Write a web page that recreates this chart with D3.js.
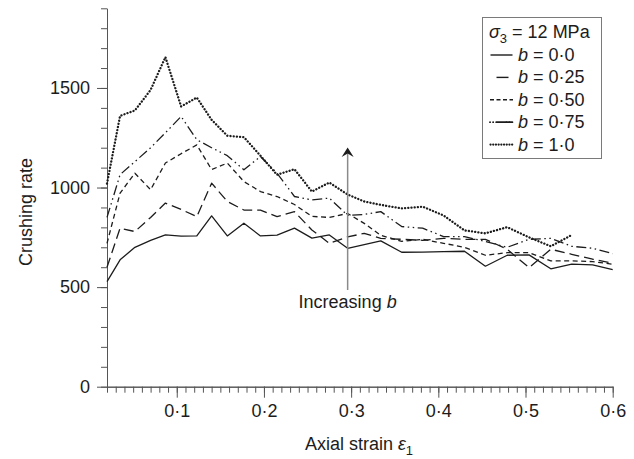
<!DOCTYPE html>
<html>
<head>
<meta charset="utf-8">
<script src="https://cdn.jsdelivr.net/npm/d3@7"></script>
<style>
  html, body { margin: 0; padding: 0; background: #fff; }
  svg { display: block; font-family: "Liberation Sans", Arial, Helvetica, sans-serif; }
</style>
</head>
<body>
<svg id="chart" width="634" height="459"></svg>
<script>
// Axial strain at which crushing rate was sampled
const strain = [0.020, 0.035, 0.052, 0.070, 0.087, 0.105, 0.123, 0.140, 0.158, 0.177,
                0.196, 0.215, 0.235, 0.255, 0.275, 0.296, 0.315, 0.334, 0.358, 0.382,
                0.406, 0.430, 0.454, 0.479, 0.504, 0.529, 0.553, 0.577, 0.600];

// Crushing rate for each intermediate principal stress ratio b (sigma3 = 12 MPa)
const rateB000 = [528, 637, 700, 735, 762, 756, 757, 858, 757, 821,
                  757, 761, 796, 746, 762, 695, 713, 732, 675, 676,
                  678, 680, 605, 660, 662, 592, 615, 612, 588];
const rateB025 = [600, 796, 779, 850, 922, 890, 854, 1022, 930, 887,
                  887, 854, 879, 787, 720, 752, 770, 745, 740, 735,
                  745, 740, 740, 690, 598, 690, 665, 640, 620];
const rateB050 = [720, 972, 1072, 989, 1123, 1170, 1214, 1090, 1123, 1030,
                  980, 955, 915, 855, 850, 870, 820, 760, 730, 740,
                  720, 700, 660, 673, 673, 632, 632, 628, 615];
const rateB075 = [850, 1065, 1130, 1200, 1275, 1357, 1240, 1200, 1160, 1089,
                  1156, 1072, 955, 938, 947, 860, 865, 879, 804, 796,
                  754, 754, 729, 700, 740, 745, 705, 695, 668];
const rateB100 = [1020, 1360, 1387, 1490, 1655, 1407, 1452, 1340, 1260, 1253,
                  1160, 1064, 1092, 980, 1025, 965, 930, 913, 895, 904,
                  860, 785, 770, 801, 750, 705, 762];

const bLabels = ["0·0", "0·25", "0·50", "0·75", "1·0"];
const yTicks = [0, 500, 1000, 1500];
const xTicks = [0.1, 0.2, 0.3, 0.4, 0.5, 0.6];
const xTickLabels = ["0·1", "0·2", "0·3", "0·4", "0·5", "0·6"];

const series = [rateB000, rateB025, rateB050, rateB075, rateB100];
const styles = [
  { dash: null, width: 1.3, cap: "butt" },
  { dash: "10,5", width: 1.3, cap: "butt" },
  { dash: "5,3.5", width: 1.3, cap: "butt" },
  { dash: "10,3.5,1.5,3.5,1.5,3.5", width: 1.3, cap: "butt" },
  { dash: "0.1,3.1", width: 2.3, cap: "round" }
];

const ink = "#1c1c1c";
const axisInk = "#555";
const svg = d3.select("#chart");

const x = d3.scaleLinear().domain([0.02, 0.6]).range([107, 612.7]);
const y = d3.scaleLinear().domain([0, 1900]).range([386.7, 8.3]);

// --- y axis: minor ticks every 100, major ticks with labels
const yAxisG = svg.append("g").attr("transform", `translate(${x(0.02)},0)`);
yAxisG.call(d3.axisLeft(y).tickValues(d3.range(0, 1901, 100)).tickSize(6)
  .tickSizeOuter(0).tickFormat(""));
yAxisG.append("g").call(d3.axisLeft(y).tickValues(yTicks).tickSize(10)
  .tickSizeOuter(0).tickFormat(d3.format("d")).tickPadding(7));
yAxisG.selectAll("path.domain").attr("stroke", axisInk);
yAxisG.selectAll(".tick line").attr("stroke", axisInk);
yAxisG.selectAll(".tick text").attr("font-size", 18).attr("fill", ink)
  .attr("font-family", "Liberation Sans, Arial, sans-serif");

// --- x axis: minor ticks every 0.01, major ticks with labels
const xAxisG = svg.append("g").attr("transform", `translate(0,${y(0)})`);
xAxisG.call(d3.axisBottom(x).tickValues(d3.range(2, 61).map(i => i / 100)).tickSize(6)
  .tickSizeOuter(0).tickFormat(""));
xAxisG.append("g").call(d3.axisBottom(x).tickValues(xTicks).tickSize(11)
  .tickSizeOuter(0).tickFormat((d, i) => xTickLabels[i]).tickPadding(7));
xAxisG.selectAll("path.domain").attr("stroke", axisInk);
xAxisG.selectAll(".tick line").attr("stroke", axisInk);
xAxisG.selectAll(".tick text").attr("font-size", 18).attr("fill", ink)
  .attr("font-family", "Liberation Sans, Arial, sans-serif");

// --- curves
const line = d3.line().x((d, i) => x(strain[i])).y(d => y(d));
series.forEach((vals, k) => {
  svg.append("path")
    .datum(vals)
    .attr("d", line)
    .attr("fill", "none")
    .attr("stroke", ink)
    .attr("stroke-width", styles[k].width)
    .attr("stroke-linecap", styles[k].cap)
    .attr("stroke-linejoin", "round")
    .attr("stroke-dasharray", styles[k].dash);
});

// --- "Increasing b" arrow
const arrowX = x(0.296);
svg.append("line")
  .attr("x1", arrowX).attr("x2", arrowX)
  .attr("y1", 290).attr("y2", 152)
  .attr("stroke", "#8a8a8a").attr("stroke-width", 1.5);
svg.append("path")
  .attr("d", `M${arrowX},147.5 L${arrowX + 6},157 L${arrowX},153.5 L${arrowX - 6},157 Z`)
  .attr("fill", ink);
const inc = svg.append("text")
  .attr("x", arrowX).attr("y", 307.5)
  .attr("text-anchor", "middle")
  .attr("font-size", 18).attr("fill", ink);
inc.append("tspan").text("Increasing ");
inc.append("tspan").attr("font-style", "italic").text("b");

// --- axis titles
const xt = svg.append("text")
  .attr("x", 359).attr("y", 450)
  .attr("text-anchor", "middle")
  .attr("font-size", 18).attr("fill", ink);
xt.append("tspan").text("Axial strain ");
xt.append("tspan").attr("font-style", "italic").text("ε");
xt.append("tspan").attr("font-size", 13).attr("dy", 5).text("1");

svg.append("text")
  .attr("transform", "translate(31.5,212) rotate(-90)")
  .attr("text-anchor", "middle")
  .attr("font-size", 18).attr("fill", ink)
  .text("Crushing rate");

// --- legend
const lg = svg.append("g");
lg.append("rect")
  .attr("x", 482.5).attr("y", 17.5).attr("width", 119).attr("height", 141)
  .attr("fill", "#fff").attr("stroke", "#7a7a7a").attr("stroke-width", 1);

const title = lg.append("text").attr("x", 489).attr("y", 38)
  .attr("font-size", 18).attr("fill", ink);
title.append("tspan").attr("font-style", "italic").text("σ");
title.append("tspan").attr("font-size", 13).attr("dy", 5).text("3");
title.append("tspan").attr("dy", -5).text(" = 12 MPa");

const sampleSpans = [[490.5, 512.5], [496.5, 508.5], [490, 513], [490, 513], [490.5, 512.5]];
const legendDash = [null, null, "4,2.5", "0.1,3,0.1,3,10", "0.1,2.6"];
bLabels.forEach((lab, k) => {
  const baseY = 61 + k * 22.4;
  const midY = baseY - 6;
  lg.append("line")
    .attr("x1", sampleSpans[k][0]).attr("x2", sampleSpans[k][1])
    .attr("y1", midY).attr("y2", midY)
    .attr("stroke", ink)
    .attr("stroke-width", k === 4 ? 2.2 : (k === 3 ? 1.8 : 1.4))
    .attr("stroke-linecap", (k === 4 || k === 3) ? "round" : "butt")
    .attr("stroke-dasharray", legendDash[k]);
  const t = lg.append("text").attr("x", 518).attr("y", baseY)
    .attr("font-size", 18).attr("fill", ink);
  t.append("tspan").attr("font-style", "italic").text("b");
  t.append("tspan").text(" = " + lab);
});
</script>
</body>
</html>
